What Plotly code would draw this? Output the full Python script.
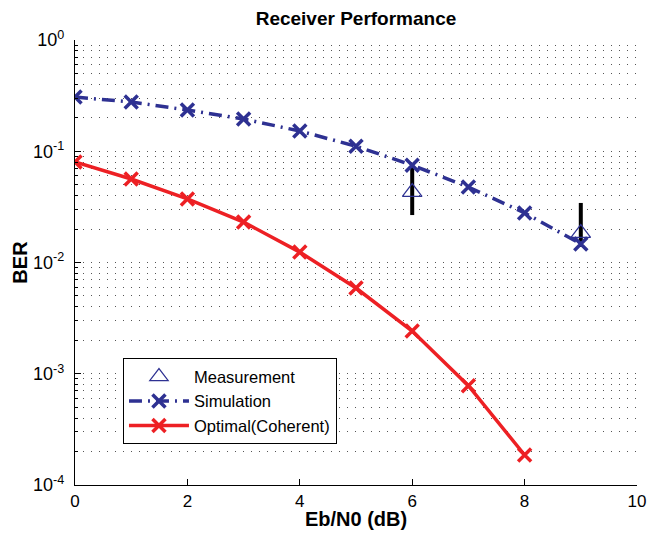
import plotly.graph_objects as go

ebn0 = [0, 1, 2, 3, 4, 5, 6, 7, 8, 9]
sim_ber = [0.307, 0.277, 0.235, 0.195, 0.152, 0.111, 0.075, 0.0477, 0.0279, 0.0147]
opt_x = [0, 1, 2, 3, 4, 5, 6, 7, 8]
opt_ber = [0.080, 0.0563, 0.0373, 0.0231, 0.0124, 0.0059, 0.00242, 0.00078, 0.000186]
meas_x = [6, 9]
meas_ber = [0.043, 0.0184]
meas_hi = [0.078, 0.0343]
meas_lo = [0.0267, 0.0138]

ytick_vals = [1e-4, 1e-3, 1e-2, 1e-1, 1e0]
ytick_text = ["10<sup>-4</sup>", "10<sup>-3</sup>", "10<sup>-2</sup>", "10<sup>-1</sup>", "10<sup>0</sup>"]
xtick_vals = [0, 2, 4, 6, 8, 10]

minor_vals = [k * 10 ** e for e in range(-4, 0) for k in range(2, 10)]

BLUE = "#2e3192"
RED = "#ed2024"
FONT = "Liberation Sans, Arial, Helvetica, sans-serif"

fig = go.Figure()

fig.add_trace(go.Scatter(
    x=meas_x, y=meas_ber, mode="markers", name="Measurement",
    marker=dict(symbol="triangle-up-open", size=17, color=BLUE, line=dict(width=1.2, color=BLUE)),
    error_y=dict(type="data", symmetric=False,
                 array=[h - m for h, m in zip(meas_hi, meas_ber)],
                 arrayminus=[m - l for m, l in zip(meas_ber, meas_lo)],
                 color="black", thickness=4, width=0),
))
fig.add_trace(go.Scatter(
    x=ebn0, y=sim_ber, mode="lines+markers", name="Simulation",
    line=dict(color=BLUE, width=3.5, dash="13px,6px,2px,6px"),
    marker=dict(symbol="x-thin", size=13, color=BLUE, line=dict(width=3.5, color=BLUE)),
))
fig.add_trace(go.Scatter(
    x=opt_x, y=opt_ber, mode="lines+markers", name="Optimal(Coherent)",
    line=dict(color=RED, width=3.5),
    marker=dict(symbol="x-thin", size=13, color=RED, line=dict(width=3.5, color=RED)),
))

fig.update_layout(
    width=651, height=534,
    margin=dict(l=75, r=14, t=40, b=49, autoexpand=False),
    paper_bgcolor="white", plot_bgcolor="white",
    font=dict(family=FONT, size=17, color="black"),
    title=dict(text="<b>Receiver Performance</b>", x=0.5, xref="paper", y=0.965, yanchor="middle",
               font=dict(family=FONT, size=19, color="black")),
    showlegend=True,
    legend=dict(x=0.085, y=0.285, xanchor="left", yanchor="top",
                bordercolor="black", borderwidth=1.2, bgcolor="white",
                font=dict(family=FONT, size=16.5, color="black"),
                itemwidth=60, tracegroupgap=0),
)

fig.update_xaxes(
    range=[0, 10], tickvals=xtick_vals, ticks="inside", ticklen=6, tickcolor="black",
    showline=True, linecolor="black", linewidth=1.2, mirror=False, showgrid=False, zeroline=False,
    tickfont=dict(family=FONT, size=17), automargin=False,
    title=dict(text="<b>Eb/N0 (dB)</b>", font=dict(family=FONT, size=20), standoff=2),
)
fig.update_yaxes(
    type="log", range=[-4, 0], tickvals=ytick_vals, ticktext=ytick_text,
    ticks="inside", ticklen=6, tickcolor="black", automargin=False,
    showline=True, linecolor="black", linewidth=1.2, mirror=False, zeroline=False,
    showgrid=True, gridcolor="#555555", gridwidth=1, griddash="1px,7px",
    tickfont=dict(family=FONT, size=18), ticklabelstandoff=6,
    minor=dict(tickmode="array", tickvals=minor_vals, ticks="inside", ticklen=3, tickcolor="black",
               showgrid=True, gridcolor="#555555", gridwidth=1, griddash="1px,7px"),
    title=dict(text="<b>BER</b>", font=dict(family=FONT, size=20), standoff=0),
)

fig.write_html("out.html", config={"displayModeBar": False},
               post_script="document.body.style.margin='0';document.body.style.padding='0';")
